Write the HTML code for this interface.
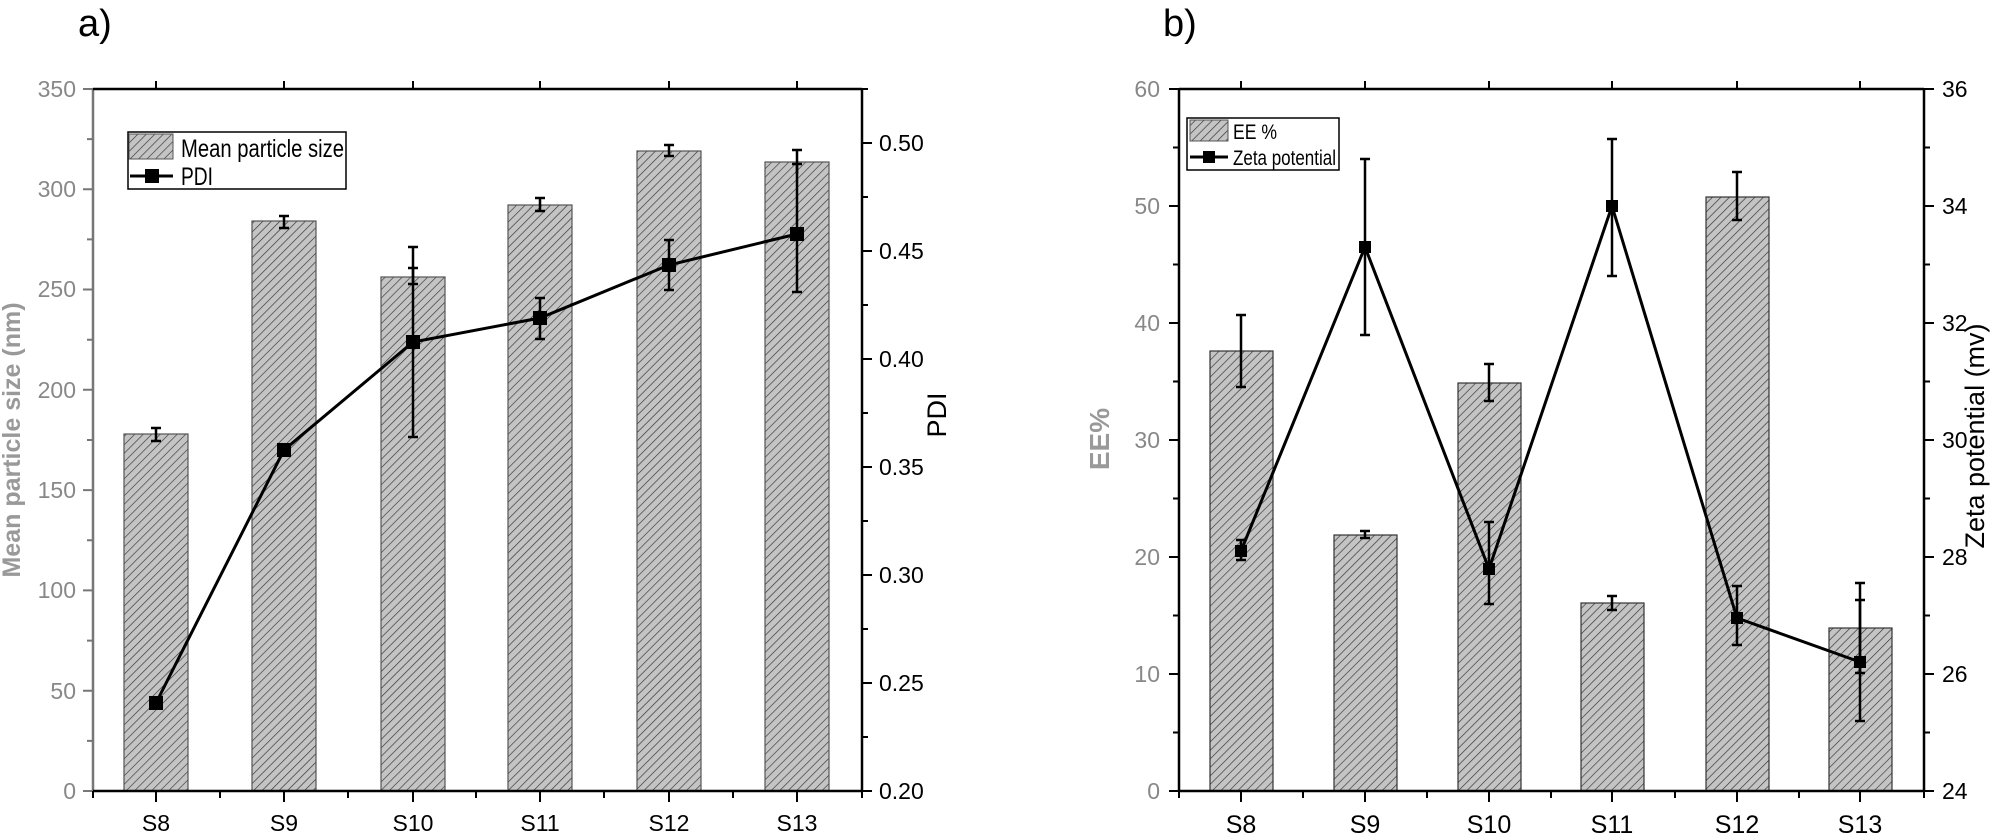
<!DOCTYPE html>
<html><head><meta charset="utf-8"><style>
html,body{margin:0;padding:0;background:#fff}
svg{display:block}
text{font-family:"Liberation Sans Narrow","Liberation Sans",sans-serif}
.t{font-size:23px;fill:#000}
.g{font-size:23px;fill:#888}
</style></head><body>
<svg width="2002" height="839" viewBox="0 0 2002 839" xmlns="http://www.w3.org/2000/svg">
<defs>
<pattern id="h" patternUnits="userSpaceOnUse" width="6" height="6" patternTransform="rotate(45)">
<rect width="6" height="6" fill="#c4c4c4"/><line x1="0" y1="0" x2="0" y2="6" stroke="#333" stroke-width="1.3"/>
</pattern>
</defs>
<text x="78" y="36" style="font-size:38px;font-family:'Liberation Sans',sans-serif">a)</text>
<text x="1163" y="36" style="font-size:38px;font-family:'Liberation Sans',sans-serif">b)</text>

<!-- Panel A -->
<g stroke="#555" stroke-width="1.2">
<rect x="124" y="434" width="64" height="357" fill="url(#h)"/>
<rect x="252" y="221" width="64" height="570" fill="url(#h)"/>
<rect x="381" y="277" width="64" height="514" fill="url(#h)"/>
<rect x="508" y="205" width="64" height="586" fill="url(#h)"/>
<rect x="637" y="151" width="64" height="640" fill="url(#h)"/>
<rect x="765" y="162" width="64" height="629" fill="url(#h)"/>
</g>
<g stroke="#000" stroke-width="2.5" fill="none">
<path d="M156 428V441M151 428H161M151 441H161"/>
<path d="M284 216V228M279 216H289M279 228H289"/>
<path d="M413 268V284M408 268H418M408 284H418"/>
<path d="M540 198V211M535 198H545M535 211H545"/>
<path d="M669 145V156M664 145H674M664 156H674"/>
<path d="M797 164V174M792 164H802"/>
<path d="M413 247V437M408 247H418M408 437H418"/>
<path d="M540 298V339M535 298H545M535 339H545"/>
<path d="M669 240V290M664 240H674M664 290H674"/>
<path d="M797 150V292M792 150H802M792 292H802"/>
<polyline stroke-width="3" points="156,703 284,450 413,342 540,318 669,265 797,234"/>
</g>
<g fill="#000">
<rect x="149" y="696" width="14" height="14"/><rect x="277" y="443" width="14" height="14"/>
<rect x="406" y="335" width="14" height="14"/><rect x="533" y="311" width="14" height="14"/>
<rect x="662" y="258" width="14" height="14"/><rect x="790" y="227" width="14" height="14"/>
</g>
<line x1="93" y1="89" x2="93" y2="791" stroke="#777" stroke-width="2.5"/>
<line x1="93" y1="89" x2="862" y2="89" stroke="#000" stroke-width="2.5"/>
<line x1="93" y1="791" x2="862" y2="791" stroke="#000" stroke-width="2.5"/>
<line x1="862" y1="89" x2="862" y2="791" stroke="#000" stroke-width="2.5"/>
<g stroke="#777" stroke-width="2">
<path d="M93 791H83M93 690.7H83M93 590.4H83M93 490.1H83M93 389.8H83M93 289.5H83M93 189.2H83M93 89H83"/>
<path d="M93 740.9H87M93 640.6H87M93 540.3H87M93 440H87M93 339.7H87M93 239.4H87M93 139.1H87"/>
</g>
<g stroke="#000" stroke-width="2">
<path d="M862 791H872M862 683H872M862 575H872M862 467H872M862 359H872M862 251H872M862 143H872"/>
<path d="M862 737H868M862 629H868M862 521H868M862 413H868M862 305H868M862 197H868M862 89H868"/>
<path d="M156 791V802M284 791V802M413 791V802M540 791V802M669 791V802M797 791V802"/>
<path d="M93 791V798M220 791V798M348 791V798M476 791V798M604 791V798M733 791V798M862 791V798"/>
<path d="M156 89V81M284 89V81M413 89V81M540 89V81M669 89V81M797 89V81"/>
</g>
<g class="g" text-anchor="end">
<text x="76" y="799">0</text><text x="76" y="699">50</text><text x="76" y="598">100</text>
<text x="76" y="498">150</text><text x="76" y="398">200</text><text x="76" y="297">250</text>
<text x="76" y="197">300</text><text x="76" y="97">350</text>
</g>
<g class="t">
<text x="879" y="799">0.20</text><text x="879" y="691">0.25</text><text x="879" y="583">0.30</text>
<text x="879" y="475">0.35</text><text x="879" y="367">0.40</text><text x="879" y="259">0.45</text><text x="879" y="151">0.50</text>
</g>
<g class="t" text-anchor="middle">
<text x="156" y="831">S8</text><text x="284" y="831">S9</text><text x="413" y="831">S10</text>
<text x="540" y="831">S11</text><text x="669" y="831">S12</text><text x="797" y="831">S13</text>
</g>
<text transform="translate(20,440) rotate(-90)" text-anchor="middle" style="font-family:'Liberation Sans',sans-serif;font-size:25px;font-weight:bold;fill:#999">Mean particle size (nm)</text>
<text transform="translate(946,415) rotate(-90)" text-anchor="middle" style="font-family:'Liberation Sans',sans-serif;font-size:27px">PDI</text>
<rect x="128" y="132" width="218" height="57" fill="#fff" stroke="#000" stroke-width="1.5"/>
<rect x="129" y="134" width="44" height="25" fill="url(#h)" stroke="#555" stroke-width="1"/>
<text x="181" y="157" style="font-size:25px" textLength="163" lengthAdjust="spacingAndGlyphs">Mean particle size</text>
<line x1="130" y1="176" x2="173" y2="176" stroke="#000" stroke-width="3"/>
<rect x="145" y="169" width="14" height="14"/>
<text x="181" y="185" style="font-size:25px" textLength="32" lengthAdjust="spacingAndGlyphs">PDI</text>

<!-- Panel B -->
<g stroke="#333" stroke-width="1.2">
<rect x="1210" y="351" width="63" height="440" fill="url(#h)"/>
<rect x="1334" y="535" width="63" height="256" fill="url(#h)"/>
<rect x="1458" y="383" width="63" height="408" fill="url(#h)"/>
<rect x="1581" y="603" width="63" height="188" fill="url(#h)"/>
<rect x="1706" y="197" width="63" height="594" fill="url(#h)"/>
<rect x="1829" y="628" width="63" height="163" fill="url(#h)"/>
</g>
<g stroke="#000" stroke-width="2.5" fill="none">
<path d="M1241 315V387M1236 315H1246M1236 387H1246"/>
<path d="M1365 531V538M1360 531H1370M1360 538H1370"/>
<path d="M1489 364V401M1484 364H1494M1484 401H1494"/>
<path d="M1612 596V610M1607 596H1617M1607 610H1617"/>
<path d="M1737 172V220M1732 172H1742M1732 220H1742"/>
<path d="M1860 600V673M1855 600H1865M1855 673H1865"/>
<path d="M1241 540V560M1236 540H1246M1236 560H1246"/>
<path d="M1365 159V335M1360 159H1370M1360 335H1370"/>
<path d="M1489 522V604M1484 522H1494M1484 604H1494"/>
<path d="M1612 139V276M1607 139H1617M1607 276H1617"/>
<path d="M1737 586V645M1732 586H1742M1732 645H1742"/>
<path d="M1860 583V721M1855 583H1865M1855 721H1865"/>
<polyline stroke-width="3" points="1241,551 1365,247 1489,569 1612,206 1737,618 1860,662"/>
</g>
<g fill="#000">
<rect x="1235" y="545" width="12" height="12"/><rect x="1359" y="241" width="12" height="12"/>
<rect x="1483" y="563" width="12" height="12"/><rect x="1606" y="200" width="12" height="12"/>
<rect x="1731" y="612" width="12" height="12"/><rect x="1854" y="656" width="12" height="12"/>
</g>
<line x1="1179" y1="89" x2="1179" y2="791" stroke="#000" stroke-width="2.5"/>
<line x1="1179" y1="89" x2="1924" y2="89" stroke="#000" stroke-width="2.5"/>
<line x1="1179" y1="791" x2="1924" y2="791" stroke="#000" stroke-width="2.5"/>
<line x1="1924" y1="89" x2="1924" y2="791" stroke="#000" stroke-width="2.5"/>
<g stroke="#000" stroke-width="2">
<path d="M1179 791H1169M1179 674H1169M1179 557H1169M1179 440H1169M1179 323H1169M1179 206H1169M1179 89H1169"/>
<path d="M1179 732.5H1173M1179 615.5H1173M1179 498.5H1173M1179 381.5H1173M1179 264.5H1173M1179 147.5H1173"/>
<path d="M1924 791H1934M1924 674H1934M1924 557H1934M1924 440H1934M1924 323H1934M1924 206H1934M1924 89H1934"/>
<path d="M1924 732.5H1930M1924 615.5H1930M1924 498.5H1930M1924 381.5H1930M1924 264.5H1930M1924 147.5H1930"/>
<path d="M1241 791V802M1365 791V802M1489 791V802M1612 791V802M1737 791V802M1860 791V802"/>
<path d="M1179 791V798M1303 791V798M1427 791V798M1551 791V798M1675 791V798M1799 791V798M1924 791V798"/>
<path d="M1241 89V81M1365 89V81M1489 89V81M1612 89V81M1737 89V81M1860 89V81"/>
</g>
<g class="g" text-anchor="end">
<text x="1160" y="799">0</text><text x="1160" y="682">10</text><text x="1160" y="565">20</text>
<text x="1160" y="448">30</text><text x="1160" y="331">40</text><text x="1160" y="214">50</text><text x="1160" y="97">60</text>
</g>
<g class="t">
<text x="1942" y="799">24</text><text x="1942" y="682">26</text><text x="1942" y="565">28</text>
<text x="1942" y="448">30</text><text x="1942" y="331">32</text><text x="1942" y="214">34</text><text x="1942" y="97">36</text>
</g>
<g text-anchor="middle" style="font-size:25px">
<text x="1241" y="833">S8</text><text x="1365" y="833">S9</text><text x="1489" y="833">S10</text>
<text x="1612" y="833">S11</text><text x="1737" y="833">S12</text><text x="1860" y="833">S13</text>
</g>
<text transform="translate(1109,439) rotate(-90)" text-anchor="middle" style="font-family:'Liberation Sans',sans-serif;font-size:28px;font-weight:bold;fill:#999">EE%</text>
<text transform="translate(1984,436) rotate(-90)" text-anchor="middle" style="font-family:'Liberation Sans',sans-serif;font-size:27px">Zeta potential (mv)</text>
<rect x="1187" y="118" width="152" height="52" fill="#fff" stroke="#000" stroke-width="1.5"/>
<rect x="1190" y="120" width="38" height="21" fill="url(#h)" stroke="#555" stroke-width="1"/>
<text x="1233" y="139" style="font-size:21px" textLength="44" lengthAdjust="spacingAndGlyphs">EE %</text>
<line x1="1190" y1="157" x2="1228" y2="157" stroke="#000" stroke-width="3"/>
<rect x="1203" y="151" width="12" height="12"/>
<text x="1233" y="165" style="font-size:21px" textLength="103" lengthAdjust="spacingAndGlyphs">Zeta potential</text>
</svg>
</body></html>
